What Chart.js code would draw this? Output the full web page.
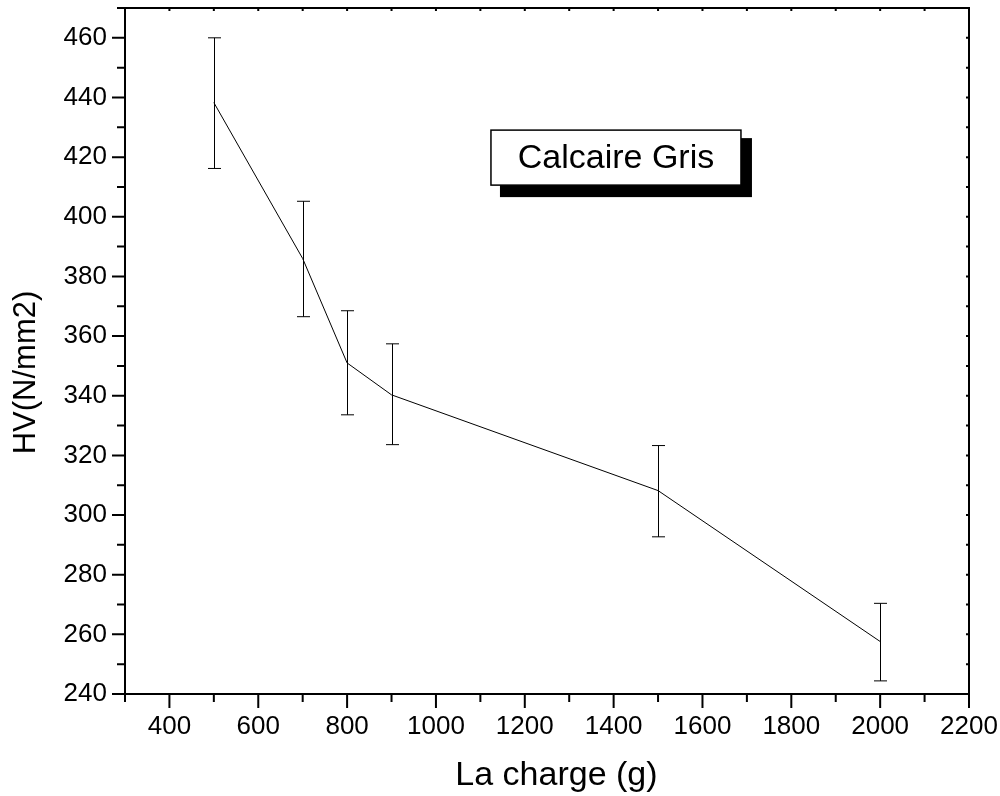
<!DOCTYPE html>
<html>
<head>
<meta charset="utf-8">
<script src="https://cdn.jsdelivr.net/npm/chart.js@4/dist/chart.umd.min.js"></script>
<style>
  html, body { margin: 0; padding: 0; background: #fff; }
  #chart { display: block; }
</style>
</head>
<body>
<canvas id="chart" width="1000" height="796"></canvas>
<script>
// data
const charges = [500, 700, 800, 900, 1500, 2000];
const hv = [438.3, 386, 351, 340.3, 308.2, 257.6];
const hvLow = [416.2, 366.5, 333.6, 323.6, 292.7, 244.4];
const hvHigh = [460, 405.2, 368.5, 357.4, 323.3, 270.4];

const xTicks = [400, 600, 800, 1000, 1200, 1400, 1600, 1800, 2000, 2200];
const yTicks = [240, 260, 280, 300, 320, 340, 360, 380, 400, 420, 440, 460];
const seriesLabel = 'Calcaire Gris';

const FONT = "'Liberation Sans', Arial, sans-serif";
const NB = '\u00A0';

// minor ticks halfway between labelled ones
const minorOf = (ticks, lo, hi) => {
  const step = ticks[1] - ticks[0];
  const out = [];
  for (let v = ticks[0] - step / 2; v <= hi; v += step / 2) {
    if (v >= lo && !ticks.includes(v)) out.push(v);
  }
  return out;
};

const frame = {
  id: 'frame',
  afterDatasetsDraw(chart) {
    const { ctx, chartArea: a, scales: { x, y } } = chart;
    ctx.save();

    // error bars
    ctx.strokeStyle = '#000';
    ctx.lineWidth = 1;
    charges.forEach((c, i) => {
      const px = Math.round(x.getPixelForValue(c)) + 0.5;
      const top = y.getPixelForValue(hvHigh[i]);
      const bot = y.getPixelForValue(hvLow[i]);
      ctx.beginPath();
      ctx.moveTo(px, top); ctx.lineTo(px, bot);
      ctx.moveTo(px - 6.5, top); ctx.lineTo(px + 6.5, top);
      ctx.moveTo(px - 6.5, bot); ctx.lineTo(px + 6.5, bot);
      ctx.stroke();
    });

    // box around plot
    ctx.lineWidth = 2;
    ctx.strokeRect(a.left, a.top, a.right - a.left, a.bottom - a.top);

    // major + minor ticks
    const xMinor = minorOf(xTicks, x.min, x.max);
    const yMinor = minorOf(yTicks, y.min, y.max);
    ctx.beginPath();
    xTicks.forEach(v => {
      const p = x.getPixelForValue(v);
      ctx.moveTo(p, a.bottom); ctx.lineTo(p, a.bottom + 14);
      ctx.moveTo(p, a.top); ctx.lineTo(p, a.top + 3);
    });
    xMinor.forEach(v => {
      const p = x.getPixelForValue(v);
      ctx.moveTo(p, a.bottom); ctx.lineTo(p, a.bottom + 8);
      ctx.moveTo(p, a.top); ctx.lineTo(p, a.top + 3);
    });
    yTicks.forEach(v => {
      const p = y.getPixelForValue(v);
      ctx.moveTo(a.left, p); ctx.lineTo(a.left - 13, p);
      ctx.moveTo(a.right, p); ctx.lineTo(a.right - 3, p);
    });
    yMinor.forEach(v => {
      const p = y.getPixelForValue(v);
      ctx.moveTo(a.left, p); ctx.lineTo(a.left - 8, p);
      ctx.moveTo(a.right, p); ctx.lineTo(a.right - 3, p);
    });
    ctx.stroke();

    // legend box with drop shadow
    const w = a.right - a.left, h = a.bottom - a.top;
    const bx = a.left + w * 0.4336, by = a.top + h * 0.178;
    const bw = 250, bh = 55;
    ctx.fillStyle = '#000';
    ctx.fillRect(bx + 9, by + 8, bw + 2, bh + 4);
    ctx.fillStyle = '#fff';
    ctx.fillRect(bx, by, bw, bh);
    ctx.lineWidth = 1.5;
    ctx.strokeStyle = '#000';
    ctx.strokeRect(bx, by, bw, bh);
    ctx.fillStyle = '#000';
    ctx.font = `34px ${FONT}`;
    ctx.textAlign = 'center';
    ctx.textBaseline = 'middle';
    ctx.fillText(seriesLabel, bx + bw / 2, by + bh / 2 + 1);

    ctx.restore();
  }
};

new Chart(document.getElementById('chart'), {
  type: 'line',
  data: {
    labels: charges,
    datasets: [{
      label: seriesLabel,
      data: charges.map((c, i) => ({ x: c, y: hv[i] })),
      borderColor: '#000',
      borderWidth: 1,
      pointRadius: 0,
      tension: 0,
      fill: false
    }]
  },
  plugins: [frame],
  options: {
    responsive: false,
    animation: false,
    layout: { padding: { top: 8, right: 31, left: 0, bottom: 0 } },
    plugins: { legend: { display: false }, tooltip: { enabled: false } },
    scales: {
      x: {
        type: 'linear',
        min: 300, max: 2200,
        afterBuildTicks: s => { s.ticks = xTicks.map(v => ({ value: v })); },
        afterFit: s => { s.height = 102; s.paddingLeft = 0; s.paddingRight = 0; },
        grid: { display: false, drawTicks: false },
        border: { display: false },
        ticks: { color: '#000', font: { family: FONT, size: 26 }, padding: 17, maxRotation: 0, autoSkip: false, callback: v => String(v) },
        title: { display: true, text: NB + NB + 'La charge (g)', color: '#000', font: { family: FONT, size: 34 }, padding: { top: 0, bottom: 0 } }
      },
      y: {
        type: 'linear',
        min: 240, max: 470,
        afterBuildTicks: s => { s.ticks = yTicks.map(v => ({ value: v })); },
        afterFit: s => { s.width = 125; s.paddingTop = 0; s.paddingBottom = 0; },
        grid: { display: false, drawTicks: false },
        border: { display: false },
        ticks: { color: '#000', font: { family: FONT, size: 26 }, padding: 18, autoSkip: false, callback: v => String(v) },
        title: { display: true, text: 'HV(N/mm2)' + NB.repeat(5), color: '#000', font: { family: FONT, size: 31 }, padding: { top: 8, bottom: 0 } }
      }
    }
  }
});
</script>
</body>
</html>
